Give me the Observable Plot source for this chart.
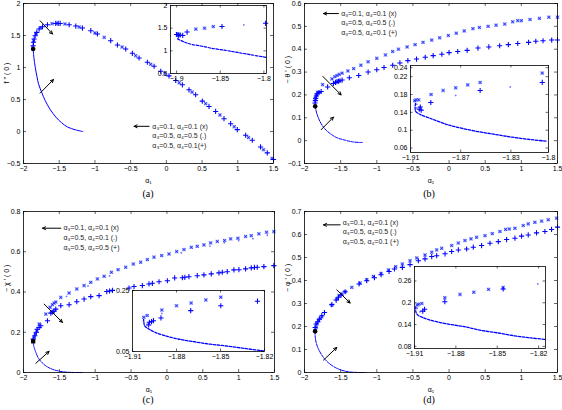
<!DOCTYPE html>
<html><head><meta charset="utf-8">
<script src="https://cdn.jsdelivr.net/npm/d3@7"></script>
<script src="https://cdn.jsdelivr.net/npm/@observablehq/plot@0.6"></script>
<style>
body{margin:0;background:#fff;}
#fig{position:relative;width:562px;height:410px;background:#fff;overflow:hidden;}
.pane{position:absolute;}
.pane svg{max-width:none;}
.cap{position:absolute;font-family:"Liberation Serif","DejaVu Serif",serif;font-size:10px;transform:translate(-50%,-50%);}
</style></head><body><div id="fig"></div>
<script>
// ---------- tick values ----------
const ticksX = [-2,-1.5,-1,-0.5,0,0.5,1,1.5];
const aTicksY = [-0.5,0,0.5,1,1.5,2];
const bTicksY = [-0.1,0,0.1,0.2,0.3,0.4,0.5,0.6];
const cTicksY = [0,0.2,0.4,0.6,0.8];
const dTicksY = [0,0.1,0.2,0.3,0.4,0.5,0.6,0.7];
const aInTicksX = [-1.9,-1.85,-1.8];
const aInTicksY = [0.5,1,1.5,2];
const bInTicksX = [-1.91,-1.87,-1.83,-1.8];
const bInTicksY = [0.06,0.1,0.14,0.18,0.22,0.24];
const cInTicksX = [-1.91,-1.88,-1.85,-1.82];
const cInTicksY = [0.05,0.25];
const dInTicksX = [-1.91,-1.88,-1.85,-1.82];
const dInTicksY = [0.08,0.14,0.2,0.26];

// ---------- labels ----------
const legendA = ["α₃=0.1, α₄=0.1 (x)","α₃=0.5, α₄=0.5 (.)","α₃=0.5, α₄=0.1(+)"];
const legendB = ["α₃=0.1, α₄=0.1 (x)","α₃=0.5, α₄=0.5 (.)","α₃=0.5, α₄=0.1 (+)"];
const legendC = ["α₃=0.1, α₄=0.1 (x)","α₃=0.5, α₄=0.1 (.)","α₃=0.5, α₄=0.5 (+)"];
const legendD = ["α₃=0.1, α₄=0.1 (x)","α₃=0.5, α₄=0.5 (.)","α₃=0.5, α₄=0.1 (+)"];
const yLabels = ["f '' ( 0 )","− θ ' ( 0 )","− χ ' ( 0 )","− φ ' ( 0 )"];
const xLabel = "α₁";
const captions = ["(a)","(b)","(c)","(d)"];

// ---------- panel (a): f''(0) ----------
const aPlus = [[-1.865,1.341],[-1.860,1.393],[-1.851,1.445],[-1.837,1.497],[-1.814,1.549],[-1.781,1.601],[-1.734,1.637],[-1.664,1.668],[-1.548,1.689],[-1.515,1.689],[-1.487,1.689],[-1.361,1.668],[-1.268,1.647],[-1.175,1.616],[-1.058,1.575],[-0.965,1.523],[-0.779,1.419],[-0.685,1.352],[-0.569,1.289],[-0.476,1.222],[-0.382,1.149],[-0.266,1.082],[-0.172,1.020],[-0.079,0.942],[0.037,0.869],[0.131,0.797],[0.224,0.729],[0.317,0.651],[0.410,0.574],[0.503,0.475],[0.597,0.392],[0.690,0.314],[0.807,0.200],[0.900,0.122],[0.993,0.029],[1.110,-0.059],[1.203,-0.137],[1.319,-0.241],[1.413,-0.334],[1.5,-0.438]];
const aTimes = [[-1.87,1.31],[-1.858,1.42],[-1.825,1.525],[-1.76,1.62],[-1.6,1.685],[-1.53,1.69],[-1.42,1.68],[-1.22,1.632],[-1.0,1.54],[-0.87,1.47],[-0.62,1.32],[-0.43,1.185],[-0.22,1.05],[-0.02,0.905],[0.18,0.762],[0.36,0.615],[0.55,0.435],[0.75,0.258],[0.95,0.075],[1.15,-0.095],[1.36,-0.285],[1.48,-0.42]];
const aLower = [[-1.865,1.289],[-1.855,1.16],[-1.835,1.0],[-1.812,0.86],[-1.79,0.745],[-1.745,0.61],[-1.697,0.485],[-1.63,0.35],[-1.548,0.226],[-1.47,0.14],[-1.385,0.071],[-1.27,0.025],[-1.17,0.0]];
const aTurn = [[-1.865,1.29]];
const aArrows = [[-1.767,1.730,-1.594,1.523],[-1.767,0.600,-1.580,0.812]];
const aLegArrow = [[-0.242,0.081,-0.452,0.081]];
const aLegPos = [[-0.196,0.081],[-0.196,-0.069],[-0.196,-0.22]];
const aInPlus = [[-1.9,1.36],[-1.898,1.33],[-1.896,1.35],[-1.893,1.34],[-1.888,1.414],[-1.848,1.536],[-1.798,1.607]];
const aInTimes = [[-1.899,1.38],[-1.897,1.36],[-1.878,1.479],[-1.868,1.5],[-1.858,1.536]];
const aInDots = [[-1.823,1.571]];
const aInLower = [[-1.899,1.264],[-1.891,1.193],[-1.883,1.143],[-1.872,1.107],[-1.860,1.057],[-1.845,1.014],[-1.830,0.964],[-1.815,0.914],[-1.798,0.857]];

// ---------- panel (b): -theta'(0) ----------
const bPlus = [[-1.855,0.165],[-1.85,0.175],[-1.845,0.185],[-1.835,0.195],[-1.82,0.205],[-1.8,0.21],[-1.77,0.215],[-1.68,0.235],[-1.6,0.25],[-1.57,0.255],[-1.55,0.258],[-1.53,0.26],[-1.51,0.262],[-1.48,0.265],[-1.38,0.275],[-1.25,0.285],[-1.12,0.3],[-1.0,0.31],[-0.9,0.32],[-0.78,0.33],[-0.68,0.34],[-0.57,0.35],[-0.45,0.357],[-0.33,0.365],[-0.22,0.372],[-0.1,0.378],[0.0,0.385],[0.12,0.39],[0.25,0.395],[0.4,0.405],[0.55,0.41],[0.7,0.415],[0.82,0.42],[0.95,0.425],[1.1,0.43],[1.2,0.435],[1.3,0.437],[1.42,0.44],[1.5,0.44]];
const bTimes = [[-1.85,0.185],[-1.84,0.2],[-1.82,0.212],[-1.75,0.245],[-1.62,0.27],[-1.58,0.28],[-1.55,0.285],[-1.52,0.29],[-1.48,0.295],[-1.4,0.305],[-1.32,0.315],[-1.22,0.33],[-1.12,0.345],[-1.0,0.36],[-0.88,0.375],[-0.78,0.39],[-0.7,0.4],[-0.58,0.41],[-0.47,0.42],[-0.36,0.43],[-0.24,0.44],[-0.13,0.45],[-0.01,0.46],[0.1,0.47],[0.21,0.48],[0.33,0.49],[0.42,0.495],[0.54,0.5],[0.65,0.505],[0.77,0.51],[0.88,0.52],[0.95,0.525],[1.0,0.525],[1.12,0.53],[1.25,0.535],[1.38,0.54],[1.5,0.54]];
const bLower = [[-1.852,0.15],[-1.829,0.118],[-1.783,0.082],[-1.723,0.053],[-1.645,0.031],[-1.553,0.013],[-1.438,0.002],[-1.322,-0.006],[-1.2,-0.008]];
const bTurn = [[-1.852,0.15]];
const bArrows = [[-1.746,0.281,-1.493,0.2],[-1.769,0.048,-1.599,0.103]];
const bLegArrow = [[-1.53,0.556,-1.737,0.556]];
const bLegPos = [[-1.493,0.556],[-1.493,0.514],[-1.493,0.474]];
const bInTimes = [[-1.9066,0.166],[-1.9055,0.168],[-1.9035,0.168],[-1.8936,0.18],[-1.884,0.189],[-1.874,0.195],[-1.8644,0.2015],[-1.8545,0.207],[-1.805,0.228]];
const bInDots = [[-1.874,0.178],[-1.8305,0.197],[-1.905,0.158],[-1.905,0.15]];
const bInPlus = [[-1.9022,0.152],[-1.903,0.147],[-1.9015,0.145],[-1.8938,0.162],[-1.8545,0.189],[-1.805,0.207]];
const bInLower = [[-1.906,0.16],[-1.906,0.143],[-1.902,0.135],[-1.8957,0.128],[-1.888,0.12],[-1.880,0.112],[-1.8696,0.1046],[-1.8566,0.097],[-1.8435,0.091],[-1.8305,0.085],[-1.8175,0.08],[-1.8018,0.0754]];

// ---------- panel (c): -chi'(0) ----------
const cTimes = [[-1.851,0.174],[-1.837,0.191],[-1.814,0.207],[-1.782,0.241],[-1.689,0.29],[-1.629,0.324],[-1.596,0.337],[-1.573,0.345],[-1.55,0.35],[-1.48,0.373],[-1.364,0.395],[-1.257,0.415],[-1.155,0.432],[-1.062,0.448],[-0.969,0.465],[-0.876,0.478],[-0.774,0.498],[-0.681,0.511],[-0.575,0.523],[-0.468,0.539],[-0.366,0.548],[-0.273,0.561],[-0.18,0.573],[-0.073,0.581],[0.029,0.589],[0.136,0.601],[0.238,0.611],[0.34,0.622],[0.423,0.627],[0.516,0.634],[0.609,0.644],[0.702,0.651],[0.804,0.656],[0.888,0.664],[0.99,0.667],[1.097,0.676],[1.176,0.68],[1.282,0.689],[1.389,0.697],[1.491,0.70]];
const cDots = [[-1.4,0.378],[-1.1,0.43],[-0.8,0.48],[0.2,0.595],[0.6,0.628],[0.8,0.645],[1.0,0.655],[1.2,0.665],[1.4,0.682]];
const cPlus = [[-1.865,0.166],[-1.842,0.183],[-1.82,0.2],[-1.81,0.215],[-1.782,0.224],[-1.759,0.232],[-1.666,0.257],[-1.619,0.295],[-1.6,0.3],[-1.575,0.305],[-1.55,0.315],[-1.48,0.332],[-1.364,0.337],[-1.257,0.352],[-1.155,0.365],[-1.062,0.377],[-0.946,0.382],[-0.839,0.402],[-0.8,0.405],[-0.76,0.408],[-0.528,0.42],[-0.459,0.427],[-0.343,0.432],[-0.25,0.44],[-0.203,0.443],[-0.11,0.451],[0.006,0.456],[0.108,0.47],[0.215,0.471],[0.25,0.473],[0.307,0.476],[0.423,0.481],[0.516,0.485],[0.618,0.49],[0.725,0.495],[0.772,0.498],[0.841,0.501],[0.934,0.51],[1.004,0.511],[1.097,0.515],[1.176,0.52],[1.22,0.522],[1.259,0.523],[1.352,0.526],[1.491,0.531]];
const cLower = [[-1.865,0.149],[-1.851,0.124],[-1.828,0.1],[-1.782,0.066],[-1.689,0.033],[-1.573,0.013],[-1.434,0.003],[-1.294,0.0],[-1.18,0.0]];
const cTurn = [[-1.865,0.155]];
const cArrows = [[-1.712,0.34,-1.457,0.249],[-1.828,0.046,-1.643,0.105]];
const cLegArrow = [[-1.48,0.717,-1.735,0.717]];
const cLegPos = [[-1.443,0.717],[-1.443,0.669],[-1.443,0.621]];
const cInTimes = [[-1.9023,0.162],[-1.9,0.168],[-1.89,0.186],[-1.88,0.2],[-1.87,0.209],[-1.86,0.219],[-1.8498,0.228]];
const cInPlus = [[-1.899,0.137],[-1.8985,0.146],[-1.897,0.148],[-1.8957,0.151],[-1.8906,0.16],[-1.8703,0.184],[-1.8498,0.2],[-1.8248,0.215]];
const cInDots = [[-1.9025,0.15],[-1.9,0.14],[-1.89,0.175]];
const cInLower = [[-1.9025,0.16],[-1.9022,0.145],[-1.9018,0.135],[-1.899,0.124],[-1.8946,0.113],[-1.888,0.102],[-1.879,0.091],[-1.868,0.082],[-1.857,0.074],[-1.846,0.068],[-1.835,0.061],[-1.8207,0.052]];

// ---------- panel (d): -phi'(0) ----------
const dTimes = [[-1.853,0.182],[-1.839,0.196],[-1.83,0.211],[-1.807,0.225],[-1.784,0.235],[-1.76,0.243],[-1.622,0.293],[-1.553,0.319],[-1.521,0.334],[-1.484,0.341],[-1.438,0.351],[-1.346,0.37],[-1.231,0.389],[-1.139,0.404],[-1.047,0.418],[-0.941,0.431],[-0.839,0.446],[-0.738,0.46],[-0.646,0.472],[-0.54,0.486],[-0.448,0.498],[-0.333,0.511],[-0.24,0.523],[-0.171,0.533],[-0.102,0.54],[0.036,0.552],[0.128,0.563],[0.22,0.574],[0.303,0.581],[0.381,0.588],[0.497,0.595],[0.598,0.604],[0.704,0.613],[0.782,0.622],[0.833,0.624],[0.911,0.627],[1.026,0.639],[1.095,0.646],[1.187,0.653],[1.28,0.658],[1.372,0.664],[1.487,0.671]];
const dPlus = [[-1.853,0.196],[-1.839,0.211],[-1.816,0.221],[-1.793,0.232],[-1.76,0.247],[-1.724,0.261],[-1.622,0.295],[-1.562,0.315],[-1.53,0.327],[-1.493,0.337],[-1.438,0.351],[-1.245,0.385],[-1.139,0.399],[-1.033,0.412],[-0.941,0.425],[-0.83,0.439],[-0.756,0.45],[-0.646,0.457],[-0.54,0.469],[-0.425,0.486],[-0.333,0.494],[-0.24,0.504],[-0.171,0.508],[-0.056,0.516],[0.036,0.526],[0.128,0.533],[0.243,0.537],[0.335,0.545],[0.45,0.552],[0.566,0.562],[0.681,0.569],[0.796,0.578],[0.911,0.584],[1.003,0.593],[1.095,0.598],[1.21,0.607],[1.326,0.613],[1.418,0.622],[1.5,0.632]];
const dLower = [[-1.853,0.179],[-1.853,0.16],[-1.839,0.131],[-1.807,0.102],[-1.737,0.065],[-1.645,0.036],[-1.53,0.015],[-1.392,0.003],[-1.254,0.0],[-1.16,0.0]];
const dTurn = [[-1.853,0.179]];
const dArrows = [[-1.553,0.359,-1.369,0.302],[-1.737,0.054,-1.553,0.109]];
const dLegArrow = [[-1.507,0.642,-1.737,0.642]];
const dLegPos = [[-1.47,0.653],[-1.47,0.61],[-1.47,0.569]];
const dInTimes = [[-1.908,0.194],[-1.907,0.196],[-1.9047,0.198],[-1.888,0.214],[-1.877,0.223],[-1.867,0.229],[-1.8563,0.237],[-1.8457,0.242]];
const dInDots = [[-1.8206,0.252],[-1.908,0.185],[-1.906,0.175]];
const dInPlus = [[-1.904,0.177],[-1.9027,0.182],[-1.888,0.203],[-1.8457,0.238]];
const dInLower = [[-1.909,0.19],[-1.909,0.175],[-1.9076,0.166],[-1.905,0.161],[-1.9003,0.154],[-1.893,0.147],[-1.8834,0.14],[-1.8737,0.134],[-1.8617,0.124],[-1.8496,0.117],[-1.8375,0.109],[-1.8254,0.103],[-1.815,0.099]];

// ---------- drawing ----------
const BLUE = "#0000ff";
const FONT = "'Liberation Sans', Arial, Helvetica, sans-serif";
const fmt = d => (d < 0 ? "\u2212" : "") + Math.abs(d);
const X = d => d[0], Y = d => d[1];
const fig = document.getElementById("fig");

function place(node, left, top) {
  const wrap = document.createElement("div");
  wrap.className = "pane";
  wrap.style.left = left + "px";
  wrap.style.top = top + "px";
  wrap.appendChild(node);
  fig.appendChild(wrap);
}

const lowerM = (data, dash, w) => Plot.line(data, {x: X, y: Y, stroke: BLUE, strokeWidth: w ?? 1, strokeDasharray: dash, curve: "catmull-rom"});
const timesM = (data, s = 1) => [
  Plot.dot(data, {x: X, y: Y, symbol: "square", r: 1.9 * s, fill: "#95a6ff", stroke: "none"}),
  Plot.dot(data, {x: X, y: Y, symbol: "times", r: 1.4 * s, stroke: BLUE, strokeWidth: 0.6})
];
const plusM = (data, s = 1) => Plot.dot(data, {x: X, y: Y, symbol: "plus", r: 1.8 * s, stroke: BLUE, strokeWidth: 1.05});
const dotsM = data => Plot.dot(data, {x: X, y: Y, r: 0.9, fill: BLUE, fillOpacity: 0.55, stroke: "none"});
const arrowsM = data => Plot.arrow(data, {x1: d => d[0], y1: d => d[1], x2: d => d[2], y2: d => d[3], stroke: "black", strokeWidth: 1, headLength: 5, headAngle: 50});
const legendM = (labels, pos, arrow) => [
  arrowsM(arrow),
  Plot.text(labels, {x: (d, i) => pos[i][0], y: (d, i) => pos[i][1], text: d => d, textAnchor: "start", fontSize: 7, fill: "#222"})
];

function makePlot(o) {
  const fw = o.w - o.ml - o.mr, fh = o.h - o.mt - o.mb;
  const tl = o.tl ?? 3;
  const ts = {stroke: "black", strokeWidth: 0.6};
  const marks = [];
  if (o.inset) marks.push(Plot.frame({fill: "white", stroke: "none"}));
  marks.push(...o.marks.flat());
  marks.push(
    Plot.tickX(o.xTicks, {x: d => d, insetTop: fh - tl, ...ts}),
    Plot.tickX(o.xTicks, {x: d => d, insetBottom: fh - tl, ...ts}),
    Plot.tickY(o.yTicks, {y: d => d, insetRight: fw - tl, ...ts}),
    Plot.tickY(o.yTicks, {y: d => d, insetLeft: fw - tl, ...ts}),
    Plot.frame({stroke: "black", strokeWidth: 0.8}),
    Plot.axisX(o.xTicks, {tickSize: 0, tickPadding: 3, tickFormat: fmt, label: null, fontSize: 7}),
    Plot.axisY(o.yTicks, {tickSize: 0, tickPadding: 3, tickFormat: fmt, label: null, fontSize: 7})
  );
  if (o.ylab) marks.push(Plot.text([o.ylab], {frameAnchor: "left", dx: -17, rotate: -90, fontSize: 7, text: d => d}));
  if (o.xlab) marks.push(Plot.text([o.xlab], {frameAnchor: "bottom", dy: 19, fontSize: 7, text: d => d}));
  const svg = Plot.plot({
    width: o.w, height: o.h,
    marginLeft: o.ml, marginRight: o.mr, marginTop: o.mt, marginBottom: o.mb,
    x: {domain: o.xDomain}, y: {domain: o.yDomain},
    style: {background: "transparent", fontFamily: FONT, fontSize: "7px", overflow: "visible"},
    marks
  });
  place(svg, o.left, o.top);
}

function inset(fx, fy, fw, fh, o) {
  makePlot({left: fx - 22, top: fy - 5, w: 22 + fw + 4, h: 5 + fh + 12, ml: 22, mr: 4, mt: 5, mb: 12, tl: 2.5, inset: true, ...o});
}

// (a)
makePlot({left: 0, top: 0, w: 281, h: 205, ml: 23, mr: 8, mt: 3, mb: 42,
  xDomain: [-2, 1.5], yDomain: [-0.5, 2], xTicks: ticksX, yTicks: aTicksY, ylab: yLabels[0], xlab: xLabel,
  marks: [lowerM(aLower), timesM(aTimes), plusM(aPlus),
    Plot.dot(aTurn, {x: X, y: Y, r: 2.3, fill: "black"}), arrowsM(aArrows), legendM(legendA, aLegPos, aLegArrow)]});
inset(170, 5, 96, 68, {xDomain: [-1.907, -1.797], yDomain: [0.5, 2], xTicks: aInTicksX, yTicks: aInTicksY,
  marks: [lowerM(aInLower, "2.5,1.5", 1.2), timesM(aInTimes), dotsM(aInDots), plusM(aInPlus)]});

// (b)
makePlot({left: 281, top: 0, w: 281, h: 205, ml: 23, mr: 5, mt: 3, mb: 42,
  xDomain: [-2, 1.5], yDomain: [-0.1, 0.6], xTicks: ticksX, yTicks: bTicksY, ylab: yLabels[1], xlab: xLabel,
  marks: [lowerM(bLower, "3,1.2"), timesM(bTimes), plusM(bPlus),
    Plot.dot(bTurn, {x: X, y: Y, r: 2.3, fill: "black"}), arrowsM(bArrows), legendM(legendB, bLegPos, bLegArrow)]});
inset(410, 65, 138, 87, {xDomain: [-1.91, -1.8], yDomain: [0.05, 0.245], xTicks: bInTicksX, yTicks: bInTicksY,
  marks: [lowerM(bInLower, "2.5,1.5", 1.3), timesM(bInTimes), dotsM(bInDots), plusM(bInPlus)]});

// (c)
makePlot({left: 0, top: 205, w: 281, h: 205, ml: 23, mr: 7, mt: 6, mb: 38,
  xDomain: [-2, 1.5], yDomain: [0, 0.8], xTicks: ticksX, yTicks: cTicksY, ylab: yLabels[2], xlab: xLabel,
  marks: [lowerM(cLower, "3,1.2"), timesM(cTimes), dotsM(cDots), plusM(cPlus),
    Plot.dot(cTurn, {x: X, y: Y, r: 2.4, symbol: "square", fill: "black"}), arrowsM(cArrows), legendM(legendC, cLegPos, cLegArrow)]});
inset(132, 290, 132, 61, {xDomain: [-1.91, -1.82], yDomain: [0.05, 0.25], xTicks: cInTicksX, yTicks: cInTicksY,
  marks: [lowerM(cInLower, "2.5,1.5", 1.3), timesM(cInTimes), dotsM(cInDots), plusM(cInPlus)]});

// (d)
makePlot({left: 281, top: 205, w: 281, h: 205, ml: 23, mr: 5, mt: 6, mb: 38,
  xDomain: [-2, 1.5], yDomain: [0, 0.7], xTicks: ticksX, yTicks: dTicksY, ylab: yLabels[3], xlab: xLabel,
  marks: [lowerM(dLower, "3,1.2"), timesM(dTimes), plusM(dPlus),
    Plot.dot(dTurn, {x: X, y: Y, r: 2.3, fill: "black"}), arrowsM(dArrows), legendM(legendD, dLegPos, dLegArrow)]});
inset(414, 266, 131, 82, {xDomain: [-1.91, -1.815], yDomain: [0.074, 0.3], xTicks: dInTicksX, yTicks: dInTicksY,
  marks: [lowerM(dInLower, "2.5,1.5", 1.3), timesM(dInTimes), dotsM(dInDots), plusM(dInPlus)]});

// captions
const capPos = [[148, 193], [429, 193], [148, 399], [429, 399]];
captions.forEach((c, i) => {
  const el = document.createElement("div");
  el.className = "cap";
  el.textContent = c;
  el.style.left = capPos[i][0] + "px";
  el.style.top = capPos[i][1] + "px";
  fig.appendChild(el);
});
</script>
</body></html>
